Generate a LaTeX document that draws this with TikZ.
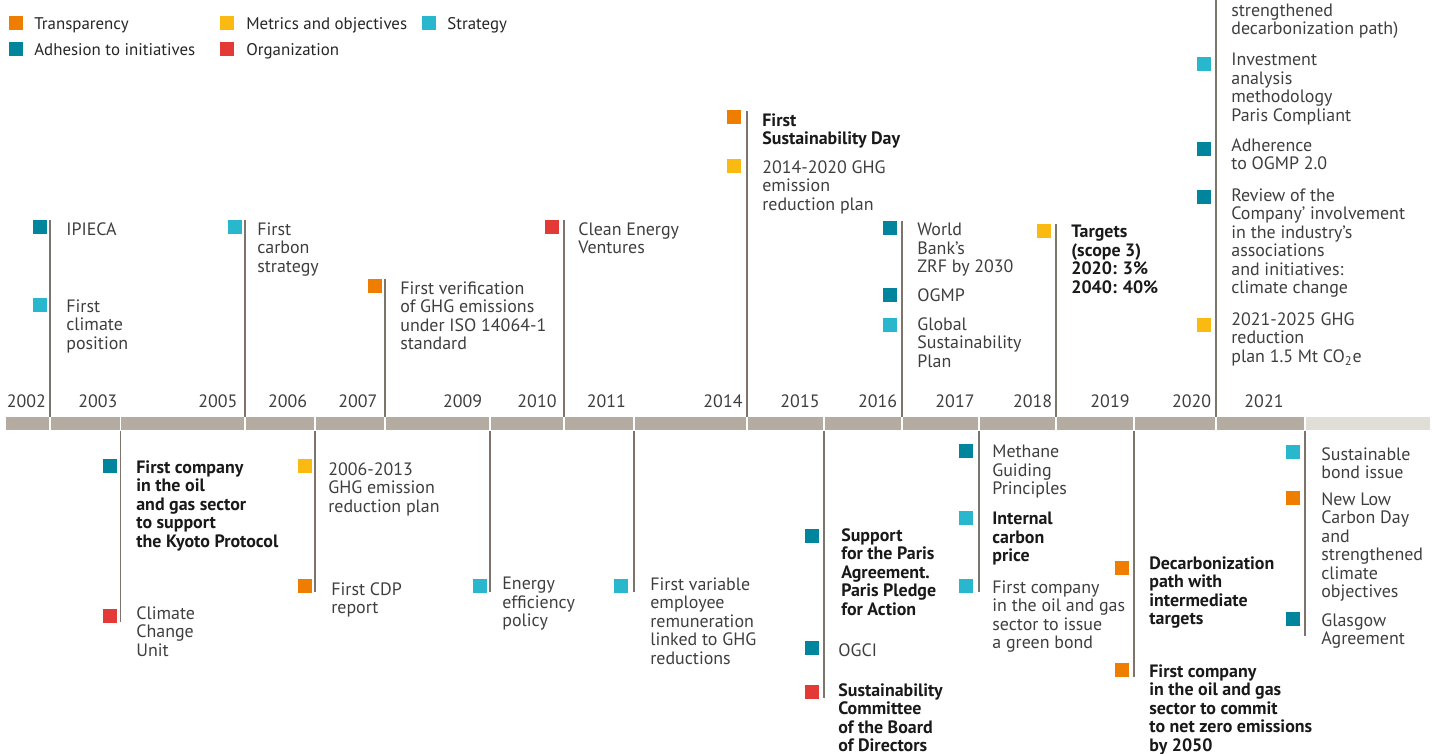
\documentclass[tikz,border=0pt]{standalone}
\usepackage{fontspec}
\setmainfont{PT Sans}
\usetikzlibrary{positioning}
\definecolor{transcolor}{RGB}{239,125,0}
\definecolor{metcolor}{RGB}{251,186,18}
\definecolor{stratcolor}{RGB}{41,183,205}
\definecolor{adhcolor}{RGB}{0,133,157}
\definecolor{orgcolor}{RGB}{227,58,55}
\definecolor{barcolor}{RGB}{180,171,161}
\definecolor{barlight}{RGB}{225,221,215}
\definecolor{stemcolor}{RGB}{125,116,107}
\definecolor{txtcolor}{RGB}{62,62,62}

\begin{document}
\begin{tikzpicture}[x=0.02cm, y=-0.02cm,
    catbox/.style={minimum size=0.28cm, inner sep=0pt, draw=none},
    evt/.style={anchor=north west, inner sep=0pt, align=left, text=txtcolor,
      font=\fontsize{10.2}{10.55}\selectfont},
    evtb/.style={evt, text=black!90, font=\fontsize{10.2}{10.55}\selectfont\bfseries},
    legtxt/.style={evt, text=black!85, font=\fontsize{9.6}{10.55}\selectfont},
    yr/.style={anchor=base, inner sep=0pt, text=txtcolor, font=\fontsize{10.2}{10.55}\selectfont},
    stem/.style={stemcolor, line width=0.8pt}]
    \useasboundingbox (0,0) rectangle (1437,754);
    % Legend
    \node[catbox, fill=transcolor] (lg-trans) at (16,23) {};
    \node[legtxt] (lt-trans) at (34,17) {Transparency};
    \node[catbox, fill=adhcolor] (lg-adh) at (16,49) {};
    \node[legtxt] (lt-adh) at (34,43) {Adhesion to initiatives};
    \node[catbox, fill=metcolor] (lg-met) at (227,23) {};
    \node[legtxt] (lt-met) at (246,17) {Metrics and objectives};
    \node[catbox, fill=orgcolor] (lg-org) at (227,49) {};
    \node[legtxt] (lt-org) at (246,43) {Organization};
    \node[catbox, fill=stratcolor] (lg-strat) at (429,23) {};
    \node[legtxt] (lt-strat) at (447,17) {Strategy};
    % Time bar, dark part up to 2021 and light part after it
    \node[fill=barcolor, inner sep=0pt, minimum width=25.98cm, minimum height=0.26cm,
      anchor=north west] (bar) at (6,417) {};
    \node[fill=barlight, inner sep=0pt, minimum width=2.49cm, minimum height=0.26cm,
      anchor=north west] (barend) at (1305,417) {};
    \foreach \g in {50,120.5,245,315,385,490,564,634,747,824,902,979,1056,1134,1216,1305} {
      \draw[white, line width=0.7pt] (\g,416) -- (\g,431);
    }
    % Year labels
    \foreach \x/\yr in {26.3/2002, 97.8/2003, 217.8/2005, 287.7/2006, 357.8/2007,
      462.6/2009, 537/2010, 606.3/2011, 723/2014, 800/2015, 877.7/2016, 955/2017,
      1032.7/2018, 1110/2019, 1191.7/2020, 1264/2021} {
      \node[yr] (y\yr) at (\x,407) {\yr};
    }
    % Stems above and below the bar
    \foreach \n/\x/\y in {a/50/220, b/245/220, c/385/279, d/564/220, e/747/111,
      f/902/221, g/1056/224, h/1216/0} {
      \coordinate (up\n) at (\x,\y);
      \draw[stem] (bar.north -| up\n) -- (up\n);
    }
    \foreach \n/\x/\y in {a/120.5/622, b/315/592, c/490/592, d/634/592, e/824/698,
      f/979/592, g/1134/677, h/1305/636} {
      \coordinate (dn\n) at (\x,\y);
      \draw[stem] (bar.south -| dn\n) -- (dn\n);
    }
    % 2002
    \node[catbox, fill=adhcolor] (k-ipieca) at (40,227) {};
    \node[evt] (ipieca) at (66,222) {IPIECA};
    \node[catbox, fill=stratcolor] (k-climpos) at (40,305) {};
    \node[evt] (climpos) at (66,299) {First\\climate\\position};
    % 2005
    \node[catbox, fill=stratcolor] (k-carbstrat) at (235,227) {};
    \node[evt] (carbstrat) at (257,222) {First\\carbon\\strategy};
    % 2007
    \node[catbox, fill=transcolor] (k-verif) at (375,286) {};
    \node[evt] (verif) at (400,281) {First verification\\of GHG emissions\\under ISO 14064-1\\standard};
    % 2010
    \node[catbox, fill=orgcolor] (k-cev) at (552,227) {};
    \node[evt] (cev) at (578,222) {Clean Energy\\Ventures};
    % 2014
    \node[catbox, fill=transcolor] (k-sday) at (734,117) {};
    \node[evtb] (sday) at (762,113) {First\\Sustainability Day};
    \node[catbox, fill=metcolor] (k-plan14) at (734,166) {};
    \node[evt] (plan14) at (762,160) {2014-2020 GHG\\emission\\reduction plan};
    % 2016
    \node[catbox, fill=adhcolor] (k-zrf) at (890,228) {};
    \node[evt] (zrf) at (917,223) {World\\Bank's\\ZRF by 2030};
    \node[catbox, fill=adhcolor] (k-ogmp) at (890,295) {};
    \node[evt] (ogmp) at (917,288) {OGMP};
    \node[catbox, fill=stratcolor] (k-gsp) at (890,325) {};
    \node[evt] (gsp) at (917,317) {Global\\Sustainability\\Plan};
    % 2018
    \node[catbox, fill=metcolor] (k-targets) at (1044,231) {};
    \node[evtb] (targets) at (1071,225) {Targets\\(scope 3)\\2020: 3\%\\2040: 40\%};
    % 2020
    \node[evt] (lcday) at (1231,3.5) {strengthened\\decarbonization path)};
    \node[catbox, fill=stratcolor] (k-invest) at (1204,64) {};
    \node[evt] (invest) at (1231,53) {Investment\\analysis\\methodology\\Paris Compliant};
    \node[catbox, fill=adhcolor] (k-ogmp2) at (1204,149) {};
    \node[evt] (ogmp2) at (1231,138) {Adherence\\to OGMP 2.0};
    \node[catbox, fill=adhcolor] (k-review) at (1204,197) {};
    \node[evt] (review) at (1231,188) {Review of the\\Company' involvement\\in the industry's\\associations\\and initiatives:\\climate change};
    \node[catbox, fill=metcolor] (k-plan21) at (1204,325) {};
    \node[evt] (plan21) at (1231,312) {2021-2025 GHG\\reduction\\plan 1.5 Mt CO\textsubscript{2}e};
    % 2003
    \node[catbox, fill=adhcolor] (k-kyoto) at (110,466) {};
    \node[evtb] (kyoto) at (136,460) {First company\\in the oil\\and gas sector\\to support\\the Kyoto Protocol};
    \node[catbox, fill=orgcolor] (k-ccu) at (110,616) {};
    \node[evt] (ccu) at (136,606) {Climate\\Change\\Unit};
    % 2006
    \node[catbox, fill=metcolor] (k-plan06) at (305,466) {};
    \node[evt] (plan06) at (328,462) {2006-2013\\GHG emission\\reduction plan};
    \node[catbox, fill=transcolor] (k-cdp) at (305,586) {};
    \node[evt] (cdp) at (331,582) {First CDP\\report};
    % 2009
    \node[catbox, fill=stratcolor] (k-effic) at (480,586) {};
    \node[evt] (effic) at (502,577) {Energy\\efficiency\\policy};
    % 2011
    \node[catbox, fill=stratcolor] (k-remun) at (621,586) {};
    \node[evt] (remun) at (650,577) {First variable\\employee\\remuneration\\linked to GHG\\reductions};
    % 2015
    \node[catbox, fill=adhcolor] (k-paris) at (812,536) {};
    \node[evtb] (paris) at (841,528) {Support\\for the Paris\\Agreement.\\Paris Pledge\\for Action};
    \node[catbox, fill=adhcolor] (k-ogci) at (812,648) {};
    \node[evt] (ogci) at (838,643) {OGCI};
    \node[catbox, fill=orgcolor] (k-board) at (812,692) {};
    \node[evtb] (board) at (838,683) {Sustainability\\Committee\\of the Board\\of Directors};
    % 2017
    \node[catbox, fill=adhcolor] (k-methane) at (966,451) {};
    \node[evt] (methane) at (992,445) {Methane\\Guiding\\Principles};
    \node[catbox, fill=stratcolor] (k-icp) at (966,518) {};
    \node[evtb] (icp) at (992,512) {Internal\\carbon\\price};
    \node[catbox, fill=stratcolor] (k-green) at (966,586) {};
    \node[evt] (green) at (992,580) {First company\\in the oil and gas\\sector to issue\\a green bond};
    % 2019
    \node[catbox, fill=transcolor] (k-decarb) at (1122,568) {};
    \node[evtb] (decarb) at (1149,556) {Decarbonization\\path with\\intermediate\\targets};
    \node[catbox, fill=transcolor] (k-netzero) at (1122,670) {};
    \node[evtb] (netzero) at (1149,664) {First company\\in the oil and gas\\sector to commit\\to net zero emissions\\by 2050};
    % 2021
    \node[catbox, fill=stratcolor] (k-bond) at (1293,452) {};
    \node[evt] (bond) at (1321,447) {Sustainable\\bond issue};
    \node[catbox, fill=transcolor] (k-lcday21) at (1293,498) {};
    \node[evt] (lcday21) at (1321,492) {New Low\\Carbon Day\\and\\strengthened\\climate\\objectives};
    \node[catbox, fill=adhcolor] (k-glasgow) at (1293,619) {};
    \node[evt] (glasgow) at (1321,613) {Glasgow\\Agreement};
\end{tikzpicture}
\end{document}
